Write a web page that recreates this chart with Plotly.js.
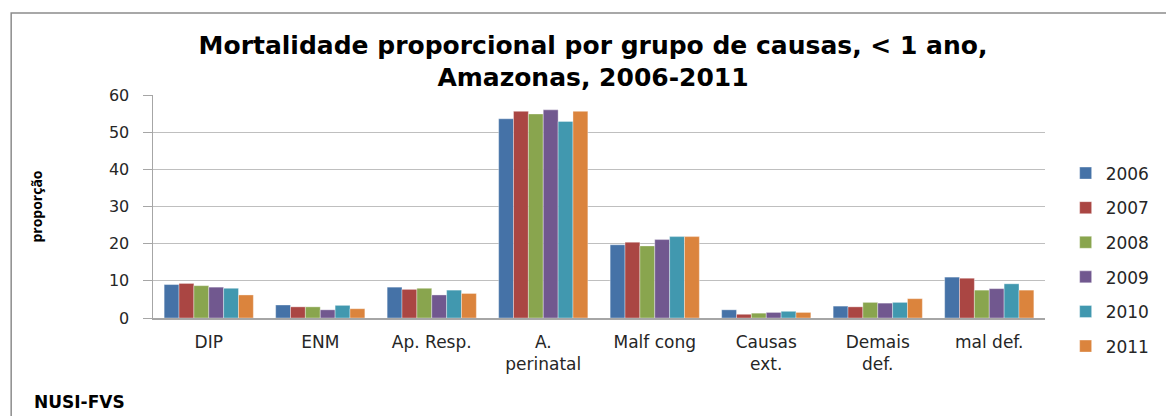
<!DOCTYPE html>
<html>
<head>
<meta charset="utf-8">
<script src="https://cdn.plot.ly/plotly-3.0.1.min.js"></script>
<style>html,body{margin:0;padding:0;background:#fff;}#chart{width:1166px;height:416px;}</style>
</head>
<body>
<div id="chart"></div>
<script>
var categories = ["DIP", "ENM", "Ap. Resp.", "A.<br>perinatal", "Malf cong", "Causas<br>ext.", "Demais<br>def.", "mal def."];
var years = ["2006", "2007", "2008", "2009", "2010", "2011"];
var v2006 = [9.0, 3.5, 8.3, 53.6, 19.7, 2.2, 3.2, 11.0];
var v2007 = [9.3, 3.0, 7.7, 55.6, 20.4, 1.0, 3.0, 10.7];
var v2008 = [8.7, 3.0, 8.0, 54.9, 19.4, 1.3, 4.2, 7.5];
var v2009 = [8.3, 2.2, 6.2, 56.0, 21.1, 1.5, 4.0, 7.9];
var v2010 = [8.0, 3.4, 7.5, 52.9, 21.9, 1.8, 4.2, 9.2];
var v2011 = [6.2, 2.5, 6.6, 55.6, 21.9, 1.5, 5.2, 7.5];
var seriesValues = [v2006, v2007, v2008, v2009, v2010, v2011];
var colors = ["#4572A7", "#AA4643", "#89A54E", "#71588F", "#4198AF", "#DB843D"];

var font = "'DejaVu Sans', 'Open Sans', sans-serif";
var traces = years.map(function (y, i) {
  return {
    type: "bar",
    name: y,
    x: categories,
    y: seriesValues[i],
    marker: {color: colors[i], line: {color: "rgba(255,255,255,0.6)", width: 0.6}},
    legendgroup: y
  };
});

var layout = {
  width: 1166, height: 416,
  margin: {l: 153, r: 120, t: 95, b: 98},
  paper_bgcolor: "#ffffff", plot_bgcolor: "#ffffff",
  font: {family: font, color: "#262626"},
  barmode: "group", bargap: 0.2, bargroupgap: 0,
  title: {
    text: "Mortalidade proporcional por grupo de causas, < 1 ano,<br>Amazonas, 2006-2011",
    font: {family: font, size: 25, color: "#000000", weight: "bold"},
    x: 0.5086, xanchor: "center", y: 0.871, yanchor: "middle"
  },
  xaxis: {
    type: "category",
    showgrid: false, showline: true, linecolor: "#A6A6A6", linewidth: 1.5,
    ticks: "", ticklabelstandoff: 8,
    tickfont: {size: 17, family: font, color: "#262626"},
    fixedrange: true
  },
  yaxis: {
    range: [0, 60], dtick: 10,
    showgrid: true, gridcolor: "#BFBFBF", gridwidth: 1,
    showline: true, linecolor: "#A6A6A6", linewidth: 1.5,
    ticks: "outside", ticklen: 9, tickcolor: "#A6A6A6", ticklabelstandoff: 10,
    tickfont: {size: 16, family: font, color: "#262626"},
    zeroline: false,
    title: {text: "proporção", font: {size: 14, family: "'Open Sans', sans-serif", weight: "bold", color: "#000000"}, standoff: 63},
    automargin: false
  },
  legend: {
    x: 1.022, xanchor: "left", y: 0.26, yanchor: "middle", yref: "paper",
    traceorder: "grouped", tracegroupgap: 9.5,
    font: {size: 17, family: font, color: "#262626"},
    bgcolor: "rgba(0,0,0,0)"
  },
  shapes: [{
    type: "rect", xref: "paper", yref: "paper",
    x0: -0.159, x1: 1.2, y0: -0.5, y1: 1.3677,
    line: {color: "#8C8C8C", width: 1.5}, fillcolor: "rgba(0,0,0,0)", layer: "below"
  }],
  annotations: [{
    text: "NUSI-FVS", xref: "paper", yref: "paper",
    x: -0.136, xanchor: "left", y: -0.377, yanchor: "middle",
    showarrow: false, font: {size: 17, family: font, weight: "bold", color: "#000000"}
  }],
  showlegend: true
};

Plotly.newPlot("chart", traces, layout, {displayModeBar: false, staticPlot: true});
</script>
</body>
</html>
